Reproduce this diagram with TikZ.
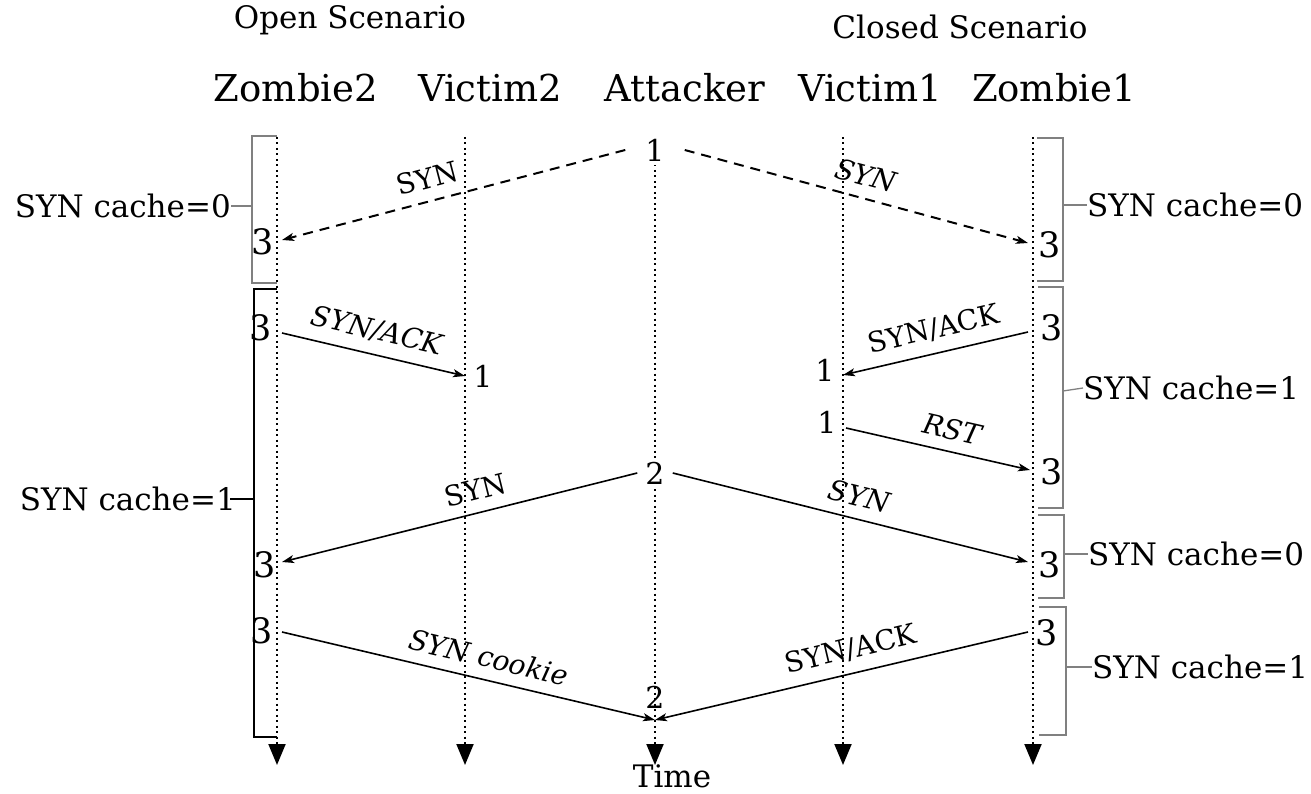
\documentclass[tikz,border=0pt]{standalone}
\usepackage{fontspec}
\setmainfont{DejaVu Serif}
\usetikzlibrary{arrows.meta,positioning}

\begin{document}
\begin{tikzpicture}[x=1pt,y=-1pt,
  head/.style={font=\fontsize{37}{40}\selectfont},
  title/.style={font=\fontsize{31}{34}\selectfont},
  cache/.style={font=\fontsize{31}{34}\selectfont, inner sep=0pt},
  num/.style={font=\fontsize{35}{38}\selectfont, inner sep=0pt},
  cnt/.style={font=\fontsize{30}{33}\selectfont, inner sep=0pt},
  lbl/.style={font=\fontsize{28}{30}\selectfont, sloped, above=8pt},
  ilbl/.style={lbl, font=\fontsize{28}{30}\selectfont\itshape},
  lifeline/.style={line width=2pt, dash pattern=on 2pt off 3.5pt,
    -{Triangle[length=21pt,width=17pt]}},
  msg/.style={line width=1.6pt, -{Stealth[length=12pt,width=8pt,inset=3pt]}},
  dmsg/.style={msg, line width=2pt, dash pattern=on 10pt off 7pt},
  bracket/.style={line width=1.3pt, gray},
]
\useasboundingbox (0,0) rectangle (1311,794);
% titles and heads
\node[title] (open) at (350,20) {Open Scenario};
\node[title] (closed) at (960,27) {Closed Scenario};
\node[head] (z2) at (296,88) {Zombie2};
\node[head] (v2) at (490,88) {Victim2};
\node[head] (att) at (685,88) {Attacker};
\node[head] (v1) at (870,88) {Victim1};
\node[head] (z1) at (1054,88) {Zombie1};
\node[title] (time) at (672,776) {Time};
% lifelines
\foreach \x in {277,465,655,843,1033}
  \draw[lifeline] (\x,137) -- (\x,765);
% brackets, open side
\draw[bracket] (277,136) -- (252,136) -- (252,283) -- (277,283);
\node[cache, anchor=east] (c1) at (231,206) {SYN cache=0};
\draw[bracket] (252,206) -- (c1.east);
\draw[bracket, black] (277,289) -- (254,289) -- (254,737) -- (277,737);
\node[cache, anchor=east] (c2) at (236,499) {SYN cache=1};
\draw[bracket, black] (254,499) -- ([xshift=-6pt]c2.east);
% brackets, closed side
\draw[bracket] (1037,138) -- (1063,138) -- (1063,281) -- (1037,281);
\node[cache, anchor=west] (c3) at (1087,205) {SYN cache=0};
\draw[bracket] (1063,205) -- (c3.west);
\draw[bracket] (1038,287) -- (1063,287) -- (1063,508) -- (1038,508);
\node[cache, anchor=west] (c4) at (1083,388) {SYN cache=1};
\draw[bracket] (1063,391) -- (c4.west);
\draw[bracket] (1038,515) -- (1064,515) -- (1064,598) -- (1038,598);
\node[cache, anchor=west] (c5) at (1088,554) {SYN cache=0};
\draw[bracket] (1064,554) -- (c5.west);
\draw[bracket] (1039,607) -- (1066,607) -- (1066,735) -- (1039,735);
\node[cache, anchor=west] (c6) at (1092,667) {SYN cache=1};
\draw[bracket] (1066,667) -- (c6.west);
% first SYN
\node[cnt, fill=white, inner xsep=20pt, inner ysep=4pt] (att1) at (655,150) {1};
\coordinate (z2r1) at (282,240);
\coordinate (z1r1) at (1028,243);
\node[num] (n1) at (263,242) {3};
\node[num] (n2) at (1050,245) {3};
\draw[dmsg] (att1.west) -- node[lbl, pos=.56] {SYN} (z2r1);
\draw[dmsg] (att1.east) -- node[ilbl, pos=.51] {SYN} (z1r1);
% SYN/ACK
\coordinate (z2s2) at (282,333);
\coordinate (v2r2) at (465,376);
\node[num] (n3) at (261,328) {3};
\node[cnt] (n4) at (483,376) {1};
\draw[msg] (z2s2) -- node[ilbl, pos=.49] {SYN/ACK} (v2r2);
\coordinate (z1s2) at (1028,332);
\coordinate (v1r2) at (843,375);
\node[num] (n5) at (1052,328) {3};
\node[cnt] (n6) at (825,370) {1};
\draw[msg] (z1s2) -- node[lbl, pos=.48] {SYN/ACK} (v1r2);
% RST
\coordinate (v1s3) at (846,428);
\coordinate (z1r3) at (1030,470);
\node[cnt] (n7) at (827,422) {1};
\node[num] (n8) at (1052,472) {3};
\draw[msg] (v1s3) -- node[ilbl, pos=.55] {RST} (z1r3);
% second SYN
\node[cnt, fill=white, inner xsep=8pt, inner ysep=3pt] (att2) at (655,473) {2};
\coordinate (z2r4) at (282,562);
\coordinate (z1r4) at (1028,562);
\node[num] (n9) at (265,565) {3};
\node[num] (n10) at (1050,565) {3};
\draw[msg] (att2.west) -- node[lbl, pos=.44] {SYN} (z2r4);
\draw[msg] (att2.east) -- node[ilbl, pos=.51] {SYN} (z1r4);
% replies to attacker
\coordinate (z2s5) at (282,632);
\coordinate (z1s5) at (1028,632);
\coordinate (ar5) at (655,720);
\node[num] (n11) at (262,631) {3};
\node[num] (n12) at (1047,633) {3};
\node[cnt] (att3) at (655,697) {2};
\draw[msg] (z2s5) -- node[ilbl, pos=.54] {SYN cookie} (ar5);
\draw[msg] (z1s5) -- node[lbl, pos=.46] {SYN/ACK} (ar5);
\end{tikzpicture}
\end{document}
